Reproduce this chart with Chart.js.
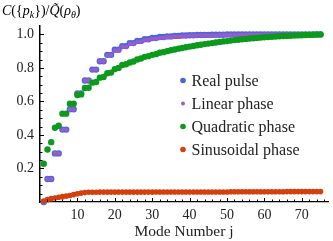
<!DOCTYPE html>
<html>
<head>
<meta charset="utf-8">
<script src="https://cdn.jsdelivr.net/npm/chart.js@4"></script>
<style>
  html, body { margin: 0; padding: 0; background: #fff; }
  #wrap { width: 333px; height: 241px; }
</style>
</head>
<body>
<div id="wrap"><canvas id="modes"></canvas></div>
<script>
// mode numbers j
var modeNumbers = [1,2,3,4,5,6,7,8,9,10,11,12,13,14,15,16,17,18,19,20,
  21,22,23,24,25,26,27,28,29,30,31,32,33,34,35,36,37,38,39,40,
  41,42,43,44,45,46,47,48,49,50,51,52,53,54,55,56,57,58,59,60,
  61,62,63,64,65,66,67,68,69,70,71,72,73,74,75];

var realPulse = [0, .137,.137, .29,.29, .432,.432, .553,.553, .648,.648,
  .725,.725, .79,.79, .84,.84, .878,.878, .908,.908, .93,.93, .948,.948,
  .961,.961, .971,.971, .978,.978, .984,.984, .988,.988, .991,.991,
  .993,.993, .995,.995, .996,.996, .997,.997, .998,.998, .998,.998,
  .999,.999,.999,.999,.999,.999,.999,.999,.999,.999,
  1,1,1,1,1,1,1,1,1,1,1,1,1,1,1,1];

var linearPhase = [0, .137,.137, .29,.29, .432,.432, .553,.553, .648,.648,
  .725,.725, .79,.79, .84,.84, .876,.876, .905,.905, .926,.926, .944,.944,
  .957,.957, .967,.967, .974,.974, .98,.98, .984,.984, .987,.987,
  .99,.99, .992,.992, .993,.993, .994,.994, .995,.995, .996,.996,
  .997,.997,.997,.997,.998,.998,.998,.998,.998,.998,
  .999,.999,.999,.999,.999,.999,.999,.999,1,1,1,1,1,1,1,1];

var quadraticPhase = [.228, .313, .357, .443, .455, .527, .527, .586, .586,
  .638, .642, .68, .682, .712, .716, .742, .746, .768, .772, .793, .8,
  .817, .822, .832, .838, .85, .856, .866, .87, .878, .882, .89, .894,
  .9, .905, .91, .915, .919, .923, .927, .931, .935, .938, .942, .945,
  .948, .952, .955, .958, .96, .963, .966, .968, .971, .973, .975, .977,
  .979, .981, .983, .984, .986, .987, .989, .99, .991, .992, .993, .994,
  .995, .996, .997, .998, .999, 1];

var sinusoidalPhase = [.006, .014, .02, .024, .028, .032, .035, .039, .044,
  .049, .053, .056, .058, .058, .058, .059, .059, .059, .059, .059, .059,
  .059, .059, .059, .059, .059, .059, .059, .059, .059, .06, .06, .06,
  .06, .06, .06, .06, .06, .06, .06, .06, .06, .06, .06, .06, .06, .06,
  .06, .06, .06, .061, .061, .061, .061, .061, .061, .061, .061, .061,
  .061, .061, .061, .061, .061, .061, .062, .062, .062, .062, .062, .062,
  .062, .062, .062, .062];

var seriesNames = ["Real pulse", "Linear phase", "Quadratic phase", "Sinusoidal phase"];
var xTickValues = [10, 20, 30, 40, 50, 60, 70];
var yTickValues = [0.2, 0.4, 0.6, 0.8, 1.0];

function pts(values) {
  return values.map(function (v, i) { return { x: modeNumbers[i], y: v }; });
}

var colors = ["#4468dc", "#9a5ccc", "#0c9a1c", "#d4400c"];
var radii = [3.2, 2.2, 3.2, 2.8];

var serif = "'Liberation Serif', 'DejaVu Serif', serif";

var decorations = {
  id: 'decorations',
  afterDraw: function (chart) {
    var ctx = chart.ctx, area = chart.chartArea;
    var x = chart.scales.x, y = chart.scales.y;
    ctx.save();
    ctx.strokeStyle = '#000';
    ctx.lineWidth = 1;
    // inward ticks on x axis
    for (var v = 2; v <= 76; v += 2) {
      var px = Math.round(x.getPixelForValue(v)) + 0.5;
      var len = (v % 10 === 0) ? 4 : 2.5;
      ctx.beginPath();
      ctx.moveTo(px, area.bottom);
      ctx.lineTo(px, area.bottom - len);
      ctx.stroke();
    }
    // inward ticks on y axis
    for (var k = 1; k <= 20; k++) {
      var py = Math.round(y.getPixelForValue(k * 0.05)) + 0.5;
      var l2 = (k % 4 === 0) ? 4 : 2.5;
      ctx.beginPath();
      ctx.moveTo(area.left, py);
      ctx.lineTo(area.left + l2, py);
      ctx.stroke();
    }

    // y label C({p_k})/Q~(rho_theta)
    ctx.fillStyle = '#000';
    ctx.textBaseline = 'alphabetic';
    ctx.textAlign = 'left';
    var big = 'italic 14px ' + serif, small = 'italic 10px ' + serif, up = '14px ' + serif;
    var parts = [
      ['C', big, 0], ['({', up, 0], ['p', big, 0], ['k', small, 3],
      ['})/', up, 0], ['Q\u0303', big, 0], ['(', up, 0], ['\u03c1', big, 0],
      ['\u03b8', small, 3], [')', up, 0]
    ];
    var cx = 2;
    parts.forEach(function (p) {
      ctx.font = p[1];
      ctx.fillText(p[0], cx, 15 + p[2]);
      cx += ctx.measureText(p[0]).width;
    });

    // legend
    var lx = 183, ly = 80.5;
    ctx.font = '16px ' + serif;
    ctx.textBaseline = 'middle';
    seriesNames.forEach(function (name, i) {
      ctx.fillStyle = colors[i];
      ctx.beginPath();
      ctx.arc(lx, ly + i * 23, i === 1 ? 2 : 2.8, 0, Math.PI * 2);
      ctx.fill();
      ctx.fillStyle = '#222';
      ctx.fillText(name, lx + 8.5, ly + i * 23 + 1);
    });
    ctx.restore();
  }
};

var datasets = [realPulse, linearPhase, quadraticPhase, sinusoidalPhase].map(function (vals, i) {
  return {
    label: seriesNames[i],
    data: pts(vals),
    backgroundColor: colors[i],
    borderWidth: 0,
    pointRadius: radii[i],
    pointHoverRadius: radii[i],
    clip: false,
    order: 4 - i
  };
});

var ctx = document.getElementById('modes').getContext('2d');

var modesChart = new Chart(ctx, {
  type: 'scatter',
  data: { datasets: datasets },
  options: {
    responsive: true,
    maintainAspectRatio: false,
    animation: false,
    layout: { padding: { top: 26, right: 5, left: 0, bottom: 0 } },
    plugins: { legend: { display: false }, tooltip: { enabled: false } },
    scales: {
      x: {
        type: 'linear',
        min: 0,
        max: 77,
        afterFit: function (s) { s.height = 39; },
        afterBuildTicks: function (s) { s.ticks = xTickValues.map(function (v) { return { value: v }; }); },
        grid: { display: true, drawOnChartArea: false, drawTicks: false },
        border: { display: true, color: '#000', width: 1.2 },
        ticks: { padding: 5, color: '#222', font: { family: serif, size: 14 }, maxRotation: 0 },
        title: { display: true, text: 'Mode Number j', color: '#222', font: { family: serif, size: 15.5 }, padding: { top: 0, bottom: 0 } }
      },
      y: {
        min: 0,
        max: 1.05,
        afterFit: function (s) { s.width = 40; },
        afterBuildTicks: function (s) { s.ticks = yTickValues.map(function (v) { return { value: v }; }); },
        grid: { display: true, drawOnChartArea: false, drawTicks: false },
        border: { display: true, color: '#000', width: 1.5 },
        ticks: {
          padding: 6, color: '#222', font: { family: serif, size: 14 },
          callback: function (v) { return v.toFixed(1); }
        }
      }
    }
  },
  plugins: [decorations]
});
</script>
</body>
</html>
